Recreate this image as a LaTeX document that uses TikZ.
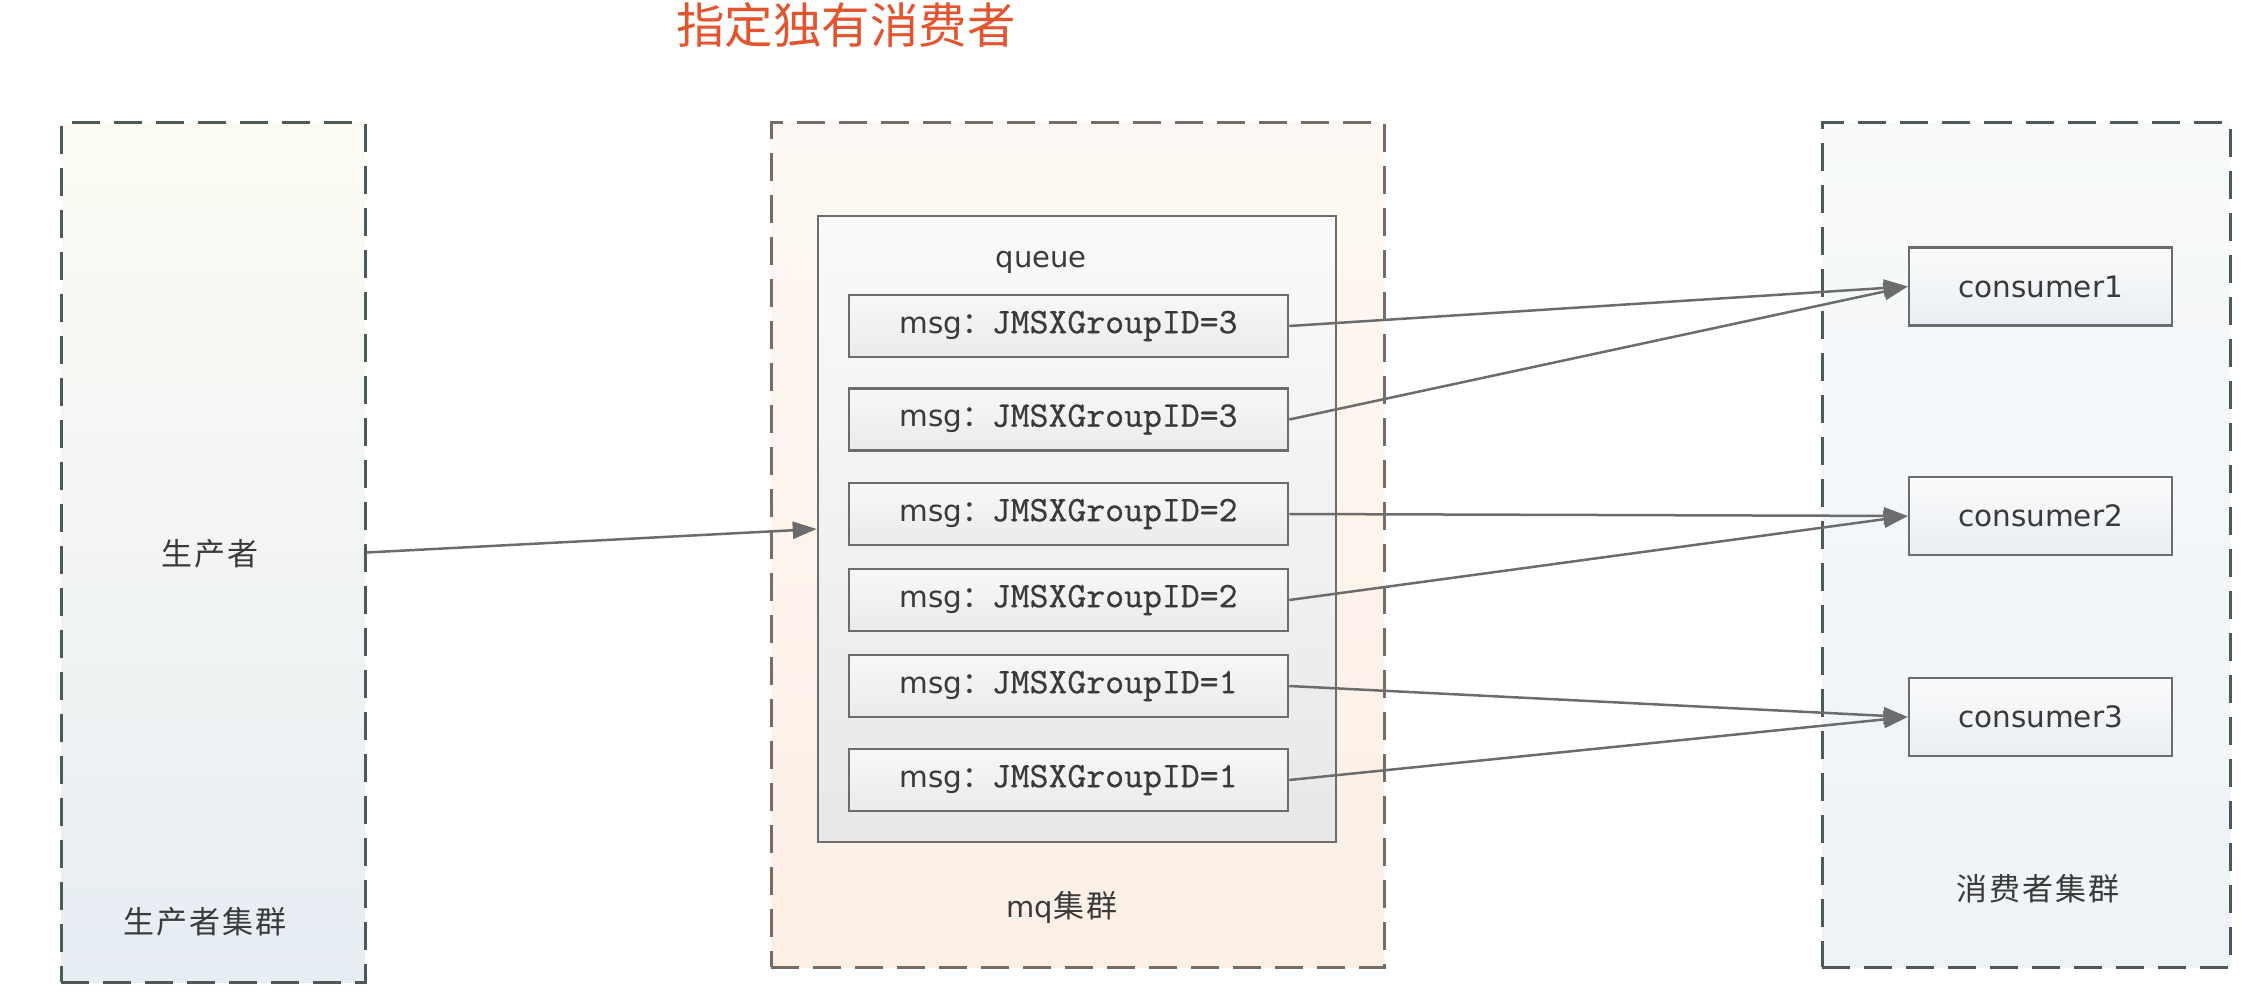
\documentclass[tikz,border=0pt]{standalone}
\usepackage{fontspec}
\newfontfamily\cjk{Noto Sans CJK SC}
\newfontfamily\cjksp{Noto Sans CJK SC}[LetterSpace=6]
\newfontfamily\lat{DejaVu Sans}
\newfontfamily\mono{lmmono10-regular.otf}[FakeBold=0.4]
\usetikzlibrary{arrows.meta}
\definecolor{titlered}{HTML}{E4552F}
\definecolor{txt}{HTML}{3A3A3A}
\definecolor{dashgray}{HTML}{4E5A5A}
\definecolor{dashbrown}{HTML}{7A6C62}
\definecolor{linegray}{HTML}{6C6C6C}
\definecolor{prodtop}{HTML}{FDFCF4}
\definecolor{prodbot}{HTML}{E6EDF3}
\definecolor{mqtop}{HTML}{FEF9F4}
\definecolor{mqbot}{HTML}{FCEFE6}
\definecolor{constop}{HTML}{F8FAFB}
\definecolor{consbot}{HTML}{EEF3F7}
\definecolor{cbtop}{HTML}{FBFBFB}
\definecolor{cbbot}{HTML}{E9EEF3}
\begin{document}
\begin{tikzpicture}[x=1pt,y=-1pt,
  cluster/.style={draw=dashgray, line width=3pt, dash pattern=on 28pt off 14pt, inner sep=0pt},
  box/.style={draw=linegray, line width=2.5pt, inner sep=0pt},
  msgbox/.style={box, top color=white!97!black, bottom color=white!92!black, minimum width=439pt, minimum height=62pt,
    font=\lat\fontsize{29.5}{34}\selectfont, text=txt},
  consbox/.style={box, top color=cbtop, bottom color=cbbot, minimum width=263pt, minimum height=78pt,
    font=\lat\fontsize{29.5}{34}\selectfont, text=txt},
  cjklbl/.style={font=\cjksp\fontsize{31}{36}\selectfont, text=txt},
  latlbl/.style={font=\lat\fontsize{29}{34}\selectfont, text=txt},
  conn/.style={draw=linegray, line width=2.5pt, -{Triangle[length=24pt,width=17pt]}}
]
\useasboundingbox (0,0) rectangle (2262,1008);
\fill[white] (0,0) rectangle (2262,1008);

% title
\node[font=\cjk\fontsize{48.5}{54}\selectfont, text=titlered] (title) at (846,25) {指定独有消费者};

% clusters
\node[cluster, top color=prodtop, bottom color=prodbot, minimum width=304pt, minimum height=859pt] (prod) at (213,552.5) {};
\node[cluster, draw=dashbrown, top color=mqtop, bottom color=mqbot, minimum width=613pt, minimum height=844pt] (mq) at (1077.5,545) {};
\node[cluster, top color=constop, bottom color=consbot, minimum width=408pt, minimum height=844pt] (cons) at (2026,545) {};

\node[cjklbl] (prodtxt) at (210,553.5) {生产者};
\node[cjklbl] (prodlbl) at (205,922) {生产者集群};
\node[font=\lat\fontsize{29}{34}\selectfont, text=txt] (mqlbl) at (1062,907) {mq{\cjksp\fontsize{31}{36}\selectfont 集群}};
\node[cjklbl] (conslbl) at (2038,889) {消费者集群};

% queue
\node[box, top color=white!98!black, bottom color=white!91!black, minimum width=518pt, minimum height=626pt] (queue) at (1077,529) {};
\node[latlbl] (queuelbl) at (1041,262) {queue};

\foreach \n/\y/\g in {1/326/3, 2/419.5/3, 3/514/2, 4/600/2, 5/686/1, 6/780/1}{
  \node[msgbox] (m\n) at (1068.5,\y) {msg{\cjk ：}{\mono\fontsize{36}{40}\selectfont JMSXGroupID=\g}};
}

% consumers
\node[consbox] (c1) at (2040.5,286.5) {consumer1};
\node[consbox] (c2) at (2040.5,516) {consumer2};
\node[consbox] (c3) at (2040.5,717) {consumer3};

% connectors
\draw[conn] (prod.east) -- (queue.west);
\draw[conn] (m1.east) -- (c1.west);
\draw[conn] (m2.east) -- (c1.west);
\draw[conn] (m3.east) -- (c2.west);
\draw[conn] (m4.east) -- (c2.west);
\draw[conn] (m5.east) -- (c3.west);
\draw[conn] (m6.east) -- (c3.west);
\end{tikzpicture}
\end{document}
